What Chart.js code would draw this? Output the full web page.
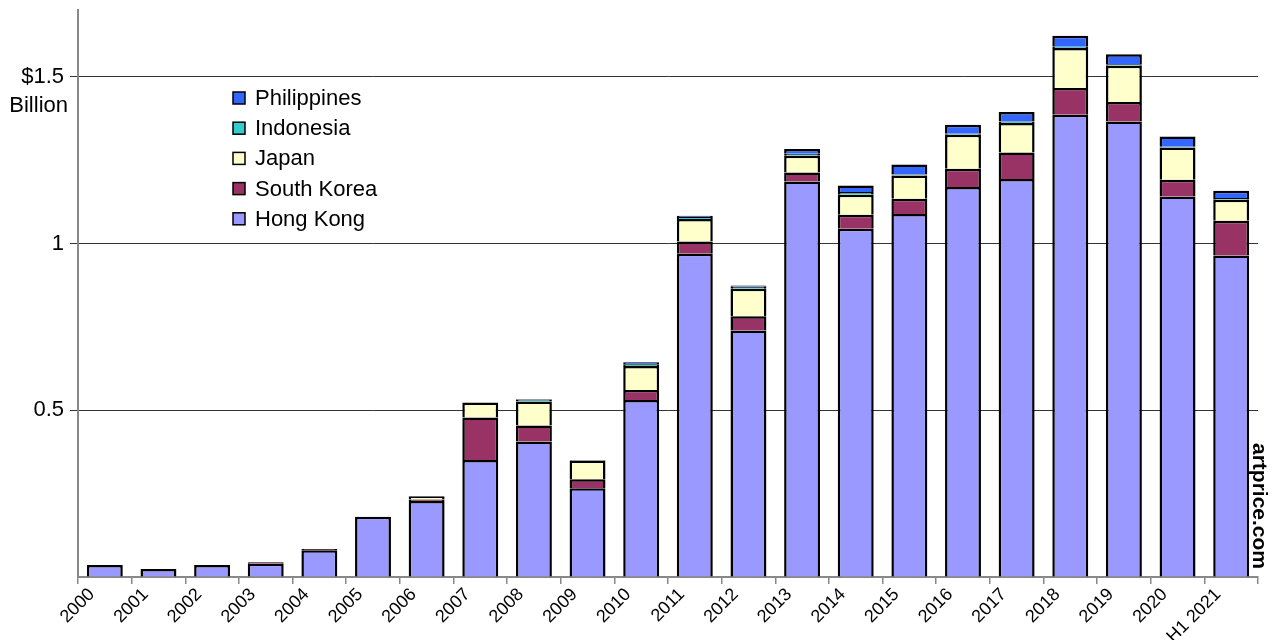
<!DOCTYPE html>
<html>
<head>
<meta charset="utf-8">
<script src="https://cdn.jsdelivr.net/npm/chart.js@4.4.1/dist/chart.umd.min.js"></script>
<style>
    html, body { margin: 0; padding: 0; background: #fff; }
    #wrap { position: relative; width: 1270px; height: 640px; }
</style>
</head>
<body>
<div id="wrap"><canvas id="chart" width="1270" height="640"></canvas></div>
<script>
// ---- Data (US$ billion) ----
const years = ['2000', '2001', '2002', '2003', '2004', '2005', '2006', '2007', '2008', '2009', '2010',
    '2011', '2012', '2013', '2014', '2015', '2016', '2017', '2018', '2019', '2020', 'H1 2021'];
const hongKong = [0.036, 0.024, 0.036, 0.040, 0.080, 0.181, 0.228, 0.351, 0.406, 0.266, 0.531,
    0.969, 0.739, 1.186, 1.044, 1.088, 1.169, 1.193, 1.386, 1.366, 1.141, 0.964];
const southKorea = [null, null, null, 0.004, 0.004, null, 0.004, 0.127, 0.048, 0.027, 0.030,
    0.037, 0.043, 0.027, 0.042, 0.046, 0.055, 0.080, 0.080, 0.058, 0.050, 0.104];
const japan = [null, null, null, null, null, null, 0.010, 0.045, 0.072, 0.056, 0.072,
    0.067, 0.082, 0.050, 0.060, 0.070, 0.102, 0.088, 0.120, 0.109, 0.097, 0.063];
const indonesia = [null, null, null, null, null, null, null, null, 0.006, 0.002, 0.005,
    0.006, 0.006, 0.006, 0.008, 0.003, 0.003, 0.005, 0.004, 0.004, 0.002, 0.005];
const philippines = [null, null, null, null, null, null, null, null, 0.002, null, 0.006,
    0.004, 0.004, 0.014, 0.020, 0.030, 0.027, 0.028, 0.033, 0.030, 0.031, 0.022];
const yTicks = [0.5, 1, 1.5];
const yTickLabels = ['0.5', '1', '$1.5'];

const FONT = '"Liberation Sans", Arial, sans-serif';

function series(label, data, color) {
    return {
        label: label,
        data: data,
        backgroundColor: color,
        borderColor: '#000',
        borderWidth: 2.5,
        borderSkipped: 'start'
    };
}

// legend drawn inside the plot, top item = top of stack
const insideLegend = {
    id: 'insideLegend',
    afterDraw(chart) {
        const c = chart.ctx;
        const sets = chart.data.datasets.slice().reverse();
        c.save();
        c.font = '22px ' + FONT;
        c.textBaseline = 'middle';
        sets.forEach((ds, i) => {
            const y = 98 + i * 30.2;
            c.fillStyle = ds.backgroundColor;
            c.fillRect(233, y - 6, 12, 12);
            c.strokeStyle = '#000';
            c.lineWidth = 1.5;
            c.strokeRect(233, y - 6, 12, 12);
            c.fillStyle = '#000';
            c.fillText(ds.label, 255, y + 1);
        });
        c.restore();
    }
};

// "Billion" under the $1.5 tick, and the artprice.com mark
const extraText = {
    id: 'extraText',
    afterDraw(chart) {
        const c = chart.ctx;
        const ys = chart.scales.y;
        c.save();
        c.font = '22px ' + FONT;
        c.fillStyle = '#000';
        c.textAlign = 'right';
        c.textBaseline = 'middle';
        c.fillText('Billion', 68, ys.getPixelForValue(1.5) + 29);

        c.font = 'bold 21px ' + FONT;
        c.translate(1259, 506);
        c.rotate(Math.PI / 2);
        c.textAlign = 'center';
        c.fillText('artprice.com', 0, 0);
        c.restore();
    }
};

new Chart(document.getElementById('chart'), {
    type: 'bar',
    data: {
        labels: years,
        datasets: [
            series('Hong Kong', hongKong, '#9999FF'),
            series('South Korea', southKorea, '#993366'),
            series('Japan', japan, '#FFFFCC'),
            series('Indonesia', indonesia, '#33CCCC'),
            series('Philippines', philippines, '#3366FF')
        ]
    },
    options: {
        responsive: false,
        animation: false,
        events: [],
        layout: { padding: { top: 10, right: 12, left: 0, bottom: 0 } },
        datasets: {
            bar: { categoryPercentage: 1, barPercentage: 0.67 }
        },
        plugins: {
            legend: { display: false },
            tooltip: { enabled: false }
        },
        scales: {
            x: {
                stacked: true,
                afterFit: (s) => { s.height = 63; },
                border: { color: '#888', width: 2 },
                grid: {
                    drawOnChartArea: false,
                    color: '#888',
                    tickLength: 7,
                    lineWidth: 1.5
                },
                ticks: {
                    color: '#000',
                    font: { family: FONT, size: 18 },
                    minRotation: 45,
                    maxRotation: 45,
                    autoSkip: false,
                    labelOffset: -13,
                    padding: 0
                }
            },
            y: {
                stacked: true,
                min: 0,
                max: 1.7,
                afterFit: (s) => { s.width = 78; s.paddingTop = 0; s.paddingBottom = 0; },
                afterBuildTicks: (s) => { s.ticks = [0].concat(yTicks).map(v => ({ value: v })); },
                border: { color: '#888', width: 2 },
                grid: {
                    color: (ctx) => (ctx.tick && ctx.tick.value > 0) ? '#333' : 'rgba(0,0,0,0)',
                    lineWidth: 1,
                    tickLength: 8
                },
                ticks: {
                    color: '#000',
                    font: { family: FONT, size: 22 },
                    padding: 6,
                    callback: (v) => {
                        const i = yTicks.indexOf(v);
                        return i >= 0 ? yTickLabels[i] : '';
                    }
                }
            }
        }
    },
    plugins: [insideLegend, extraText]
});
</script>
</body>
</html>
